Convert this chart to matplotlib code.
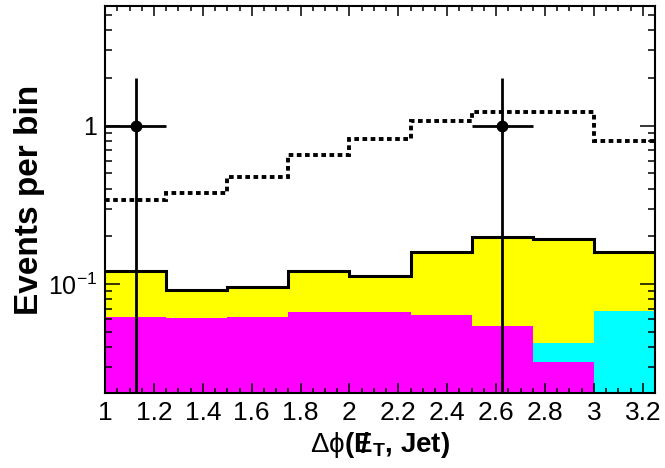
import numpy as np
import matplotlib
matplotlib.use("Agg")
import matplotlib.pyplot as plt
import matplotlib.ticker as mtick

plt.rcParams["font.family"] = ["Liberation Sans", "DejaVu Sans"]
plt.rcParams["mathtext.fontset"] = "custom"
plt.rcParams["mathtext.rm"] = "Liberation Sans"
plt.rcParams["mathtext.it"] = "Liberation Sans:italic"
plt.rcParams["mathtext.bf"] = "Liberation Sans:bold"

# binning in delta-phi
bin_edges = np.arange(1.0, 3.2501, 0.25)

# background components per bin (stacked bottom -> top)
bkg_magenta = [0.0616, 0.0612, 0.0616, 0.0668, 0.0668, 0.0637, 0.0543, 0.0323, 0.0]
bkg_cyan    = [0.0, 0.0, 0.0, 0.0, 0.0, 0.0, 0.0, 0.0103, 0.0675]
bkg_total   = [0.121, 0.0916, 0.0962, 0.121, 0.1123, 0.160, 0.199, 0.192, 0.160]

# signal expectation (dotted)
signal = [0.340, 0.379, 0.474, 0.653, 0.820, 1.076, 1.225, 1.225, 0.800]

# observed data
data_x = [1.125, 2.625]
data_y = [1.0, 1.0]
data_err = [1.0, 1.0]

COL_MAG = "#FF00FF"
COL_CYAN = "#00FFFF"
COL_YEL = "#FFFF00"

y_lo, y_hi = 0.0205, 5.7
floor = 1e-3

fig = plt.figure(figsize=(6.65, 4.68), dpi=100)
ax = fig.add_axes([0.158, 0.160, 0.827, 0.827])
ax.set_yscale("log")

mag = np.array(bkg_magenta)
mag_cyan = mag + np.array(bkg_cyan)
tot = np.array(bkg_total)

ax.stairs(np.maximum(tot, floor), bin_edges, baseline=floor, fill=True, color=COL_YEL, zorder=1)
ax.stairs(np.maximum(mag_cyan, floor), bin_edges, baseline=floor, fill=True, color=COL_CYAN, zorder=1.1)
ax.stairs(np.maximum(mag, floor), bin_edges, baseline=floor, fill=True, color=COL_MAG, zorder=1.2)
ax.stairs(tot, bin_edges, baseline=None, color="black", lw=2.2, zorder=3)

ax.stairs(signal, bin_edges, baseline=None, color="black", lw=2.8,
          linestyle=(0, (1.2, 0.9)), zorder=3)

half_w = np.diff(bin_edges)[0] / 2
lower = [min(e, y - floor) for y, e in zip(data_y, data_err)]
ax.errorbar(data_x, data_y, xerr=half_w, yerr=[lower, data_err], fmt="o",
            color="black", ms=7.5, elinewidth=2.0, capsize=0, zorder=4)

ax.set_xlim(bin_edges[0], bin_edges[-1])
ax.set_ylim(y_lo, y_hi)

ax.xaxis.set_major_locator(mtick.MultipleLocator(0.2))
ax.xaxis.set_minor_locator(mtick.MultipleLocator(0.05))
ax.xaxis.set_major_formatter(mtick.FuncFormatter(lambda v, p: f"{v:g}"))
ax.set_yticks([0.1, 1.0])
ax.set_yticklabels([r"$10^{\mathrm{-}1}$", "1"])
ax.yaxis.set_minor_locator(mtick.LogLocator(base=10, subs=np.arange(2, 10)))
ax.yaxis.set_minor_formatter(mtick.NullFormatter())

ax.tick_params(axis="both", which="both", direction="in", top=True, right=True, width=1.1)
ax.tick_params(axis="x", which="major", length=7.5, labelsize=19, pad=6)
ax.tick_params(axis="x", which="minor", length=3.5)
ax.tick_params(axis="y", which="major", length=11, labelsize=18, pad=6)
ax.tick_params(axis="y", which="minor", length=5)
for s in ax.spines.values():
    s.set_linewidth(1.5)
ax.set_axisbelow(False)

ax.set_ylabel("Events per bin", fontsize=24, fontweight="bold", labelpad=2)
ax.set_xlabel(r"$\mathrm{\Delta\phi}$(" + r"$\mathbf{E}\!\!\!\mathbf{/}\,{}_{\mathbf{T}}$" + ", Jet)",
              fontsize=20, fontweight="bold", labelpad=3)

fig.savefig("out.png", dpi=100)
